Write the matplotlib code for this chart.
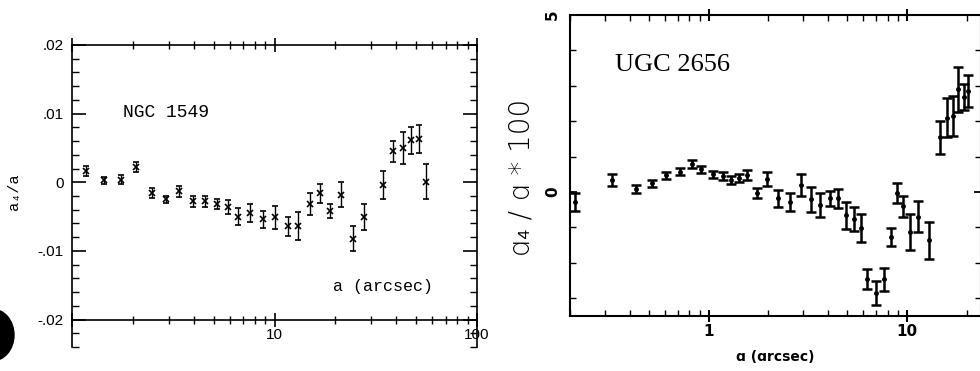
import matplotlib
matplotlib.use("Agg")
import matplotlib.pyplot as plt
import numpy as np
from matplotlib.ticker import FixedLocator, FixedFormatter, NullFormatter, MultipleLocator, LogLocator
from matplotlib.patches import Ellipse

# ---- NGC 1549 (left panel) ----
ngc_a = [1.17, 1.44, 1.75, 2.07, 2.49, 2.92, 3.39, 3.97, 4.55, 5.22, 5.92, 6.6,
         7.6, 8.73, 10.0, 11.6, 13.1, 14.9, 16.7, 18.9, 21.2, 24.3, 27.6,
         34.2, 38.4, 43.1, 47.2, 51.8, 55.8]
ngc_a4 = [0.0016, 0.0003, 0.0004, 0.0022, -0.0016, -0.0025, -0.0013, -0.0028,
          -0.0028, -0.0032, -0.0036, -0.0050, -0.0045, -0.0054, -0.0051,
          -0.0064, -0.0064, -0.0031, -0.0016, -0.0042, -0.0018, -0.0082,
          -0.0050, -0.0004, 0.0045, 0.0050, 0.0061, 0.0063, 0.0001]
ngc_err = [0.0007, 0.0005, 0.0006, 0.0007, 0.0007, 0.0005, 0.0008, 0.0008,
           0.0008, 0.0007, 0.0010, 0.0012, 0.0013, 0.0012, 0.0017, 0.0014,
           0.0020, 0.0016, 0.0014, 0.0010, 0.0018, 0.0018, 0.0019, 0.0020,
           0.0015, 0.0023, 0.0020, 0.0021, 0.0026]
ngc_yticks = [-0.02, -0.01, 0.0, 0.01, 0.02]
ngc_ylabels = ['-.02', '-.01', '0', '.01', '.02']
ngc_xticks = [1, 10, 100]
ngc_xlabels = ['', '10', '100']

# ---- UGC 2656 (right panel) ----
ugc_a = [0.213, 0.327, 0.428, 0.52, 0.61, 0.714, 0.82, 0.92, 1.05, 1.18, 1.29,
         1.42, 1.56, 1.75, 1.96, 2.23, 2.57, 2.91, 3.27, 3.63, 4.08, 4.48, 4.92,
         5.4, 5.85, 6.28, 6.97, 7.65, 8.3, 8.9, 9.55, 10.4, 11.4, 12.9,
         14.7, 15.9, 17.1, 18.1, 19.4, 20.3]
ugc_a4 = [-0.28, 0.34, 0.08, 0.25, 0.48, 0.57, 0.79, 0.65, 0.50, 0.45, 0.34,
          0.39, 0.48, -0.03, 0.37, -0.18, -0.28, 0.20, -0.20, -0.37, -0.18,
          -0.18, -0.65, -0.77, -1.02, -2.46, -2.86, -2.46, -1.27, -0.03, -0.40,
          -1.13, -0.70, -1.36, 1.55, 2.10, 2.15, 2.90, 2.68, 2.85]
ugc_err = [0.25, 0.17, 0.12, 0.10, 0.10, 0.10, 0.12, 0.10, 0.10, 0.12, 0.12,
           0.12, 0.15, 0.15, 0.21, 0.25, 0.26, 0.32, 0.35, 0.33, 0.21, 0.27,
           0.38, 0.34, 0.40, 0.29, 0.34, 0.32, 0.25, 0.28, 0.30, 0.50, 0.44,
           0.52, 0.47, 0.55, 0.56, 0.63, 0.37, 0.46]
ugc_yticks = [0, 5]
ugc_ylabels = ['0', '5']
ugc_xticks = [1, 10]
ugc_xlabels = ['1', '10']

fig = plt.figure(figsize=(9.8, 3.71), dpi=100)

# ---------------- left panel ----------------
ax1 = fig.add_axes([72/980, 1-347/371, 405/980, 302/371])
ax1.errorbar(ngc_a, ngc_a4, yerr=ngc_err, fmt='x', color='k', ms=5, mew=1.2,
             elinewidth=1.0, capsize=2, capthick=1.0)
ax1.set_xscale('log')
ax1.set_xlim(1, 100)
ax1.set_ylim(-0.024, 0.02)
ax1.spines['bottom'].set_position(('data', -0.02))
for s in ax1.spines.values():
    s.set_linewidth(1.2)
ax1.yaxis.set_major_locator(FixedLocator(ngc_yticks))
ax1.yaxis.set_major_formatter(FixedFormatter(ngc_ylabels))
ax1.yaxis.set_minor_locator(MultipleLocator(0.002))
ax1.xaxis.set_major_locator(FixedLocator(ngc_xticks))
ax1.xaxis.set_major_formatter(FixedFormatter(ngc_xlabels))
ax1.xaxis.set_minor_locator(LogLocator(base=10, subs=np.arange(2, 10)))
ax1.xaxis.set_minor_formatter(NullFormatter())
ax1.tick_params(axis='y', which='both', direction='in', left=True, right=True, pad=6)
ax1.tick_params(axis='y', which='major', length=10, width=1.2, labelsize=11)
ax1.tick_params(axis='y', which='minor', length=5, width=1.0)
ax1.tick_params(axis='x', which='both', direction='inout', top=True, bottom=True, pad=1)
ax1.tick_params(axis='x', which='major', length=10, width=1.2, labelsize=11)
ax1.tick_params(axis='x', which='minor', length=6, width=1.0)
for lbl in ax1.get_xticklabels() + ax1.get_yticklabels():
    lbl.set_fontfamily('Liberation Sans')
ax1.text(0.125, 0.775, 'NGC 1549', transform=ax1.transAxes, fontsize=13,
         family='Liberation Mono', va='center', ha='left')
ax1.text(0.645, 0.2, 'a (arcsec)', transform=ax1.transAxes, fontsize=12,
         family='Liberation Mono', va='center', ha='left')
fig.text(14/980, 1-192/371, 'a₄/a', rotation=90, ha='center', va='center',
         fontsize=11, family=['Liberation Mono', 'DejaVu Sans Mono'])

# ---------------- right panel ----------------
ax2 = fig.add_axes([570/980, 1-316/371, 411/980, 301/371])
ax2.errorbar(ugc_a, ugc_a4, yerr=ugc_err, fmt='o', color='k', ms=2.5,
             elinewidth=1.8, capsize=3.5, capthick=1.8)
ax2.set_xscale('log')
ax2.set_xlim(0.2, 23.6)
ax2.set_ylim(-3.5, 5)
for s in ax2.spines.values():
    s.set_linewidth(1.5)
ax2.yaxis.set_major_locator(FixedLocator(ugc_yticks))
ax2.yaxis.set_major_formatter(FixedFormatter(ugc_ylabels))
ax2.yaxis.set_minor_locator(MultipleLocator(1))
ax2.xaxis.set_major_locator(FixedLocator(ugc_xticks))
ax2.xaxis.set_major_formatter(FixedFormatter(ugc_xlabels))
ax2.xaxis.set_minor_locator(LogLocator(base=10, subs=np.arange(2, 10)))
ax2.xaxis.set_minor_formatter(NullFormatter())
ax2.tick_params(axis='y', which='both', direction='in', left=True, right=True, pad=7)
ax2.tick_params(axis='y', which='major', length=5, width=1.3, labelsize=11,
                labelrotation=90)
ax2.tick_params(axis='y', which='minor', length=4, width=1.0)
ax2.tick_params(axis='x', which='both', top=True, bottom=True, pad=2)
ax2.tick_params(axis='x', which='major', direction='inout', length=8, width=1.5, labelsize=11)
ax2.tick_params(axis='x', which='minor', direction='in', length=4, width=1.0)
for lbl in ax2.get_yticklabels():
    lbl.set_va('center')
for lbl in ax2.get_xticklabels() + ax2.get_yticklabels():
    lbl.set_fontweight('bold')
ax2.set_xlabel('ɑ (ɑrcsec)', fontsize=10, fontweight='bold', labelpad=8)
ax2.text(0.11, 0.835, 'UGC 2656', transform=ax2.transAxes, fontsize=19,
         family='Liberation Serif', va='center', ha='left')
fig.text(522/980, 1-178/371, 'ɑ₄ / ɑ * 100', rotation=90, ha='center', va='center',
         fontsize=20, fontweight='light')

# scan artefact (punch hole) at the lower left
fig.add_artist(Ellipse((-8/980, 36/371), 44/980, 52/371,
                       transform=fig.transFigure, color='k'))

fig.savefig('out.png', dpi=100)
